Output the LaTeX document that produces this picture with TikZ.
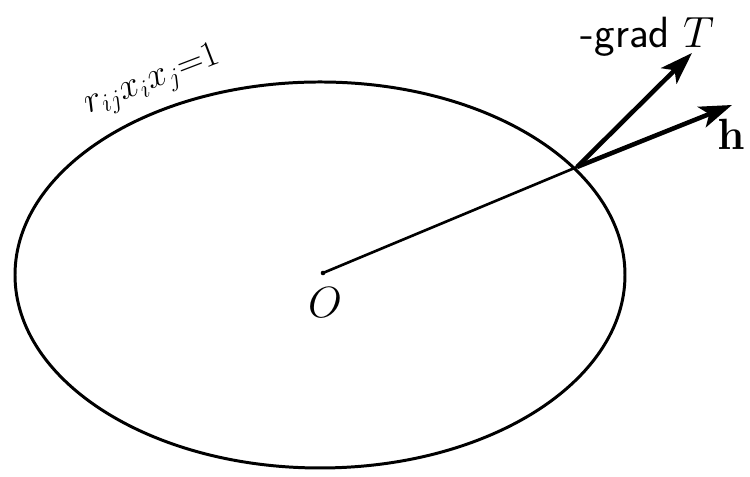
\documentclass[tikz,border=0pt]{standalone}
\usetikzlibrary{arrows.meta}
\begin{document}
\begin{tikzpicture}
	[curve/.style={line width=1.7pt},
	 vec/.style={line width=2.6pt,-{Stealth[length=6.5mm,width=4.4mm,inset=1.6mm]}},
	 lbl/.style={inner sep=1pt,font=\Huge}]
    \useasboundingbox (0,0) rectangle (15,9.54);
    \coordinate (C) at (6.4,4.04);
    \coordinate (O) at (6.46,4.08);
    \coordinate (P) at (11.54,6.2);
    \coordinate (T) at (13.84,8.48);
    \coordinate (H) at (14.64,7.44);
    \draw [curve] (C) ellipse [x radius=6.1, y radius=3.86];
    \draw [line width=1.5pt] (O) -- (P);
    \fill (O) circle (1.3pt);
    \draw [vec] (P) -- (T);
    \draw [vec] (P) -- (H);
    \node[lbl] (Olabel) at (6.5,3.48) {$O$};
    \node[lbl] (Tlabel) at (12.95,8.8) {\textsf{-grad}~$T$};
    \node[lbl] (Hlabel) at (14.62,6.86) {$\mathbf{h}$};
    \node[lbl,font=\huge,rotate=21] (Flabel) at (3.05,7.9) {$r_{ij}x_ix_j{=}1$};
\end{tikzpicture}
\end{document}
